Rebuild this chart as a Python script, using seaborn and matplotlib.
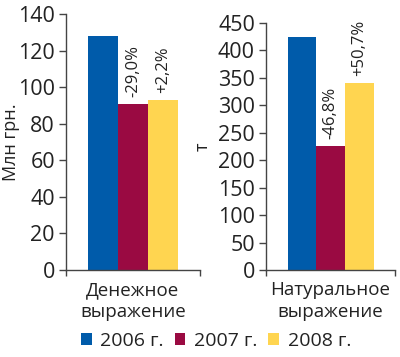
import matplotlib
matplotlib.use("Agg")
import matplotlib.pyplot as plt
import seaborn as sns
import pandas as pd
from matplotlib.patches import Patch

years = ["2006 г.", "2007 г.", "2008 г."]
money_values = [128.0, 90.9, 92.9]
nat_values = [424.5, 225.9, 340.5]
money_labels = ["", "-29,0%", "+2,2%"]
nat_labels = ["", "-46,8%", "+50,7%"]
cat_money = "Денежное\nвыражение"
cat_nat = "Натуральное\nвыражение"
colors = ["#005BAA", "#9A0A42", "#FFD550"]

sns.set_theme(style="white")
plt.rcParams["font.family"] = ["Open Sans", "DejaVu Sans"]

df_m = pd.DataFrame({"cat": [cat_money] * 3, "year": years, "value": money_values})
df_n = pd.DataFrame({"cat": [cat_nat] * 3, "year": years, "value": nat_values})

fig = plt.figure(figsize=(4.0, 3.57), dpi=100)
ax1 = fig.add_axes([0.165, 0.2437, 0.335, 0.7173])
ax2 = fig.add_axes([0.665, 0.2437, 0.3225, 0.6919])

def draw(ax, df, labels, ymax, step, ylabel, label_x):
    sns.barplot(data=df, x="cat", y="value", hue="year", palette=colors,
                width=0.8, ax=ax, legend=False, saturation=1, linewidth=0)
    ax.set_xlim(-0.6, 0.6)
    ax.set_ylim(0, ymax)
    ax.set_yticks(range(0, ymax + 1, step))
    ax.set_xlabel("")
    ax.set_ylabel(ylabel, fontsize=13, color="#222222")
    ax.yaxis.set_label_coords(label_x, 0.5)
    for s in ["top", "right"]:
        ax.spines[s].set_visible(False)
    for s in ["left", "bottom"]:
        ax.spines[s].set_color("#444444")
        ax.spines[s].set_linewidth(1.0)
    ax.tick_params(axis="y", direction="out", length=5, width=1, color="#444444",
                   labelsize=15.5, labelcolor="#222222", left=True, pad=3)
    ax.tick_params(axis="x", which="major", length=0, labelsize=13.5,
                   labelcolor="#222222", pad=8)
    ax.set_xticks([-0.6, 0.6], minor=True)
    ax.tick_params(axis="x", which="minor", direction="out", length=4, width=1,
                   color="#444444", bottom=True)
    for t in ax.get_xticklabels():
        t.set_linespacing(1.3)
    bars = sorted(ax.patches, key=lambda p: p.get_x())
    for p, lab in zip(bars, labels):
        if lab:
            ax.annotate(lab, (p.get_x() + p.get_width() / 2, p.get_height()),
                        xytext=(0, 5), textcoords="offset points",
                        ha="center", va="bottom", rotation=90,
                        fontsize=12, color="#222222")

draw(ax1, df_m, money_labels, 140, 20, "Млн грн.", -0.34)
draw(ax2, df_n, nat_labels, 450, 50, "т", -0.42)

handles = [Patch(facecolor=c, edgecolor="none") for c in colors]
fig.legend(handles, years, loc="lower center", bbox_to_anchor=(0.54, -0.03),
           ncol=3, frameon=False, fontsize=14, handlelength=0.55, handleheight=0.55,
           handletextpad=0.45, columnspacing=0.55, labelcolor="#222222")

fig.savefig("out.png", dpi=100)
